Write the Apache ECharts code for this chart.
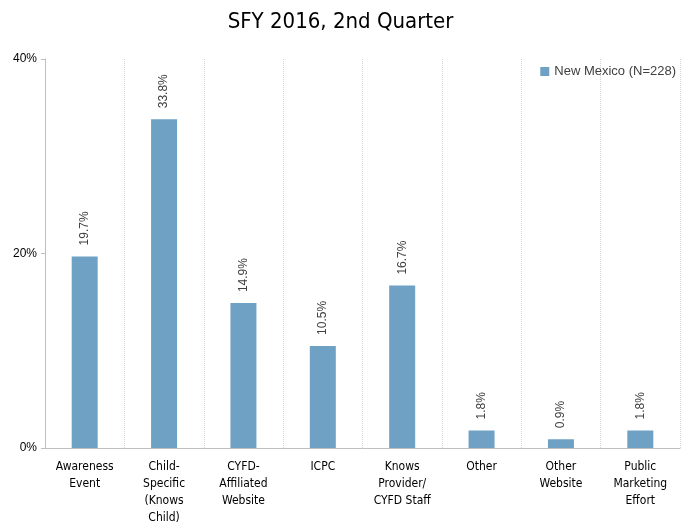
<!DOCTYPE html>
<html>
<head>
<meta charset="utf-8">
<script src="https://cdn.jsdelivr.net/npm/echarts@6/dist/echarts.min.js"></script>
<style>
  html, body { margin: 0; padding: 0; background: #fff; }
  #chart { width: 681px; height: 529px; }
</style>
</head>
<body>
<div id="chart"></div>
<script>
// 类别与数值
const categories = [
  'Awareness\nEvent',
  'Child-\nSpecific\n(Knows\nChild)',
  'CYFD-\nAffiliated\nWebsite',
  'ICPC',
  'Knows\nProvider/\nCYFD Staff',
  'Other',
  'Other\nWebsite',
  'Public\nMarketing\nEffort'
]
const values = [19.7, 33.8, 14.9, 10.5, 16.7, 1.8, 0.9, 1.8]
const seriesName = 'New Mexico (N=228)'
const yTicks = [0, 20, 40]

const chart = echarts.init(document.getElementById('chart'))
const option = {
  animation: false,
  title: {
    text: 'SFY 2016, 2nd Quarter',
    left: 'center',
    top: 6,
    textStyle: {
      fontFamily: '"DejaVu Sans Condensed", "Liberation Sans Narrow", sans-serif',
      fontSize: 22,
      fontWeight: 'normal',
      color: '#000'
    }
  },
  legend: {
    data: [seriesName],
    icon: 'rect',
    right: 0,
    top: 60,
    itemWidth: 9,
    itemHeight: 9,
    itemGap: 6,
    textStyle: { fontSize: 13, color: '#404040', fontFamily: 'Liberation Sans, sans-serif' }
  },
  grid: {
    left: 45,
    right: 1,
    top: 59,
    bottom: 81
  },
  xAxis: {
    type: 'category',
    data: categories,
    axisLine: { lineStyle: { color: '#bfbfbf' } },
    axisTick: { show: false },
    splitLine: { show: true, lineStyle: { color: '#d4d4d4', type: [1, 1] } },
    axisLabel: {
      interval: 0,
      margin: 10,
      fontSize: 12,
      lineHeight: 17,
      color: '#000',
      fontFamily: '"Liberation Sans Narrow", "DejaVu Sans Condensed", sans-serif'
    }
  },
  yAxis: {
    type: 'value',
    min: yTicks[0],
    max: yTicks[yTicks.length - 1],
    interval: 20,
    axisLine: { show: true, lineStyle: { color: '#bfbfbf' } },
    axisTick: { show: true, length: 4, lineStyle: { color: '#bfbfbf' } },
    splitLine: { show: false },
    axisLabel: {
      formatter: '{value}%',
      fontSize: 12,
      margin: 8,
      color: '#000',
      fontFamily: 'Liberation Sans, sans-serif'
    }
  },
  series: [
    {
      name: seriesName,
      type: 'bar',
      data: values,
      barWidth: 26,
      itemStyle: { color: '#6fa1c4' },
      label: {
        show: true,
        position: 'top',
        rotate: 90,
        align: 'left',
        verticalAlign: 'middle',
        distance: 11,
        formatter: p => p.value.toFixed(1) + '%',
        fontSize: 12,
        color: '#404040',
        fontFamily: 'Liberation Sans, sans-serif'
      }
    }
  ]
}
chart.setOption(option)
</script>
</body>
</html>
